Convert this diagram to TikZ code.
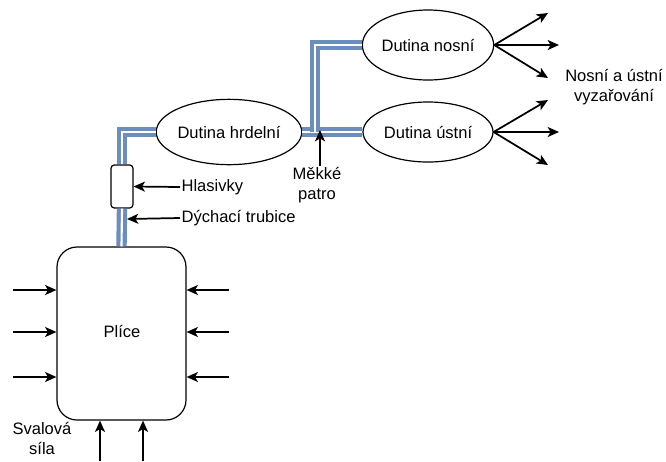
\documentclass[tikz,border=0pt]{standalone}
\usepackage{fontspec}
\setmainfont{Liberation Sans}
\usetikzlibrary{arrows.meta,positioning,shapes.geometric}
\definecolor{tubeBlue}{HTML}{6C8EBF}
\tikzset{
  speechCavity/.style={draw, ellipse, inner sep=0pt, line width=0.9pt, font=\fontsize{12.4}{15}\selectfont},
  speechLung/.style={draw, rounded corners=15pt, inner sep=0pt, line width=0.9pt, minimum width=96.75pt, minimum height=129.75pt, font=\fontsize{12.4}{15}\selectfont},
  speechCords/.style={draw, rounded corners=2.5pt, inner sep=0pt, line width=0.9pt, minimum width=16.5pt, minimum height=32.25pt},
  speechLabel/.style={inner sep=1pt, align=center, font=\fontsize{12.4}{15}\selectfont},
  speechArrow/.style={-{Stealth[length=8.5pt, width=7.5pt, inset=2.2pt]}, line width=1.3pt},
  speechTube/.style={draw=tubeBlue, line width=3.1pt, double=white, double distance=1.6pt}
}

\begin{document}
\begin{tikzpicture}[x=0.75pt, y=-0.75pt]
      \useasboundingbox (0,0) rectangle (666,461);
      \node[speechLung] (lungs) at (121.5,333.5) {};
      \node[speechLabel] (lungsText) at (122,331) {Plíce};
      \node[speechCords] (cords) at (122,186.5) {};
      \node[speechCavity, minimum width=96pt, minimum height=49pt] (throat) at (229,132) {Dutina hrdelní};
      \node[speechCavity, minimum width=97.5pt, minimum height=52.5pt] (nose) at (428,45) {Dutina nosní};
      \node[speechCavity, minimum width=97.5pt, minimum height=45pt] (mouth) at (428,132) {Dutina ústní};
      % vzduchová trubice
      \draw[speechTube] (lungs.north) -- (cords.south);
      \draw[speechTube] (cords.north) |- (throat.west);
      \draw[speechTube] (throat.east) -- (mouth.west);
      \coordinate (velumJoin) at (315,132);
      \draw[speechTube] (velumJoin) |- (nose.west);
      % popisky
      \node[speechLabel, anchor=west] (cordsText) at (180,187) {Hlasivky};
      \node[speechLabel, anchor=west] (tracheaText) at (180,218) {Dýchací trubice};
      \coordinate (tracheaEdge) at (127,219);
      \draw[speechArrow] (cordsText.west) -- (cords.east);
      \draw[speechArrow] (tracheaText.west) -- (tracheaEdge);
      \node[speechLabel] (velumText) at (317,185) {Měkké\\patro};
      \coordinate (velum) at (320,130);
      \draw[speechArrow] (velum |- velumText.north) -- (velum);
      \node[speechLabel] (radiationText) at (614,87) {Nosní a ústní\\vyzařování};
      \node[speechLabel] (muscleText) at (42,438) {Svalová\\síla};
      % vyzařování
      \coordinate (noseRayA) at (548,13);
      \coordinate (noseRayB) at (559,45);
      \coordinate (noseRayC) at (548,78);
      \coordinate (mouthRayA) at (548,100);
      \coordinate (mouthRayB) at (559,132);
      \coordinate (mouthRayC) at (548,165);
      \draw[speechArrow] (nose.east) -- (noseRayA);
      \draw[speechArrow] (nose.east) -- (noseRayB);
      \draw[speechArrow] (nose.east) -- (noseRayC);
      \draw[speechArrow] (mouth.east) -- (mouthRayA);
      \draw[speechArrow] (mouth.east) -- (mouthRayB);
      \draw[speechArrow] (mouth.east) -- (mouthRayC);
      % svalová síla
      \foreach \y [count=\i] in {290,332,377} {
        \coordinate (pushLeft\i) at (13,\y);
        \coordinate (pushRight\i) at (229,\y);
        \draw[speechArrow] (pushLeft\i) -- (pushLeft\i -| lungs.west);
        \draw[speechArrow] (pushRight\i) -- (pushRight\i -| lungs.east);
      }
      \foreach \x [count=\i] in {100,143} {
        \coordinate (pushUp\i) at (\x,461);
        \draw[speechArrow] (pushUp\i) -- (pushUp\i |- lungs.south);
      }
    \end{tikzpicture}
\end{document}
